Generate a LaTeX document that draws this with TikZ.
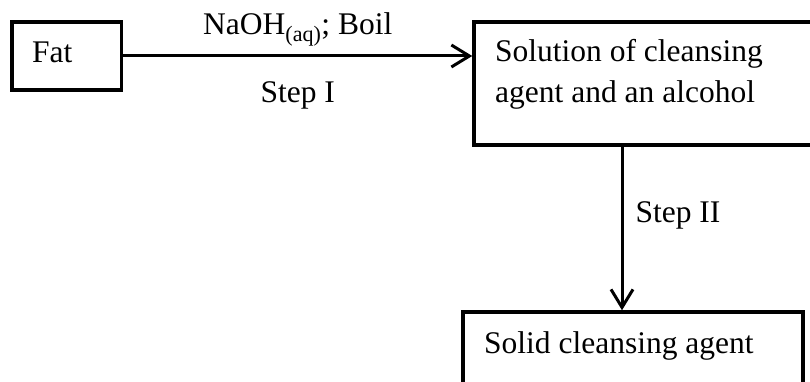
\documentclass[tikz,border=0pt]{standalone}
\usepackage{fontspec}
\setmainfont{Liberation Serif}
\usetikzlibrary{arrows.meta}

\begin{document}
\begin{tikzpicture}
	[
	x=1pt, y=-1pt, font=\fontsize{31.5}{41}\selectfont,
	>={Straight Barb[length=18pt, width=22pt]},
	%Stile für Kästen, Pfeile und Texte
	kasten/.style={draw, line width=3.5pt, inner sep=0pt},
	pfeil/.style={->, line width=3pt},
	txt/.style={inner sep=0pt, anchor=base west}
	]
	\useasboundingbox (0,0) rectangle (810,382);
	\clip (0,0) rectangle (810,382);
	%Kästen
	\node[kasten, minimum width=109.5pt, minimum height=68pt] (fat) at (66.75,56) {};
	\node[kasten, minimum width=376pt, minimum height=123pt] (loesung) at (662,83.5) {};
	\node[kasten, minimum width=340pt, minimum height=88pt] (seife) at (633,356) {};
	%Texte in den Kästen (base = letzte Zeile)
	\node[txt] (fatText) at (32,63) {Fat};
	\node[txt, align=left] (loesungText) at (495,103) {Solution of cleansing\\agent and an alcohol};
	\node[txt] (seifeText) at (484,353) {Solid cleansing agent};
	%Pfeile
	\coordinate (stufeII) at (622,0);
	\draw[pfeil] (fat.east) -- (fat.east -| loesung.west)
		node[midway, anchor=base, yshift=21pt, inner sep=0pt] (bedingung) {NaOH\textsubscript{(aq)}; Boil}
		node[midway, anchor=base, yshift=-47pt, inner sep=0pt] (schrittI) {Step I};
	\draw[pfeil] (loesung.south -| stufeII) -- (seife.north -| stufeII)
		node[midway, anchor=base west, xshift=12pt, yshift=6pt, inner sep=0pt] (schrittII) {Step II};
\end{tikzpicture}
\end{document}
